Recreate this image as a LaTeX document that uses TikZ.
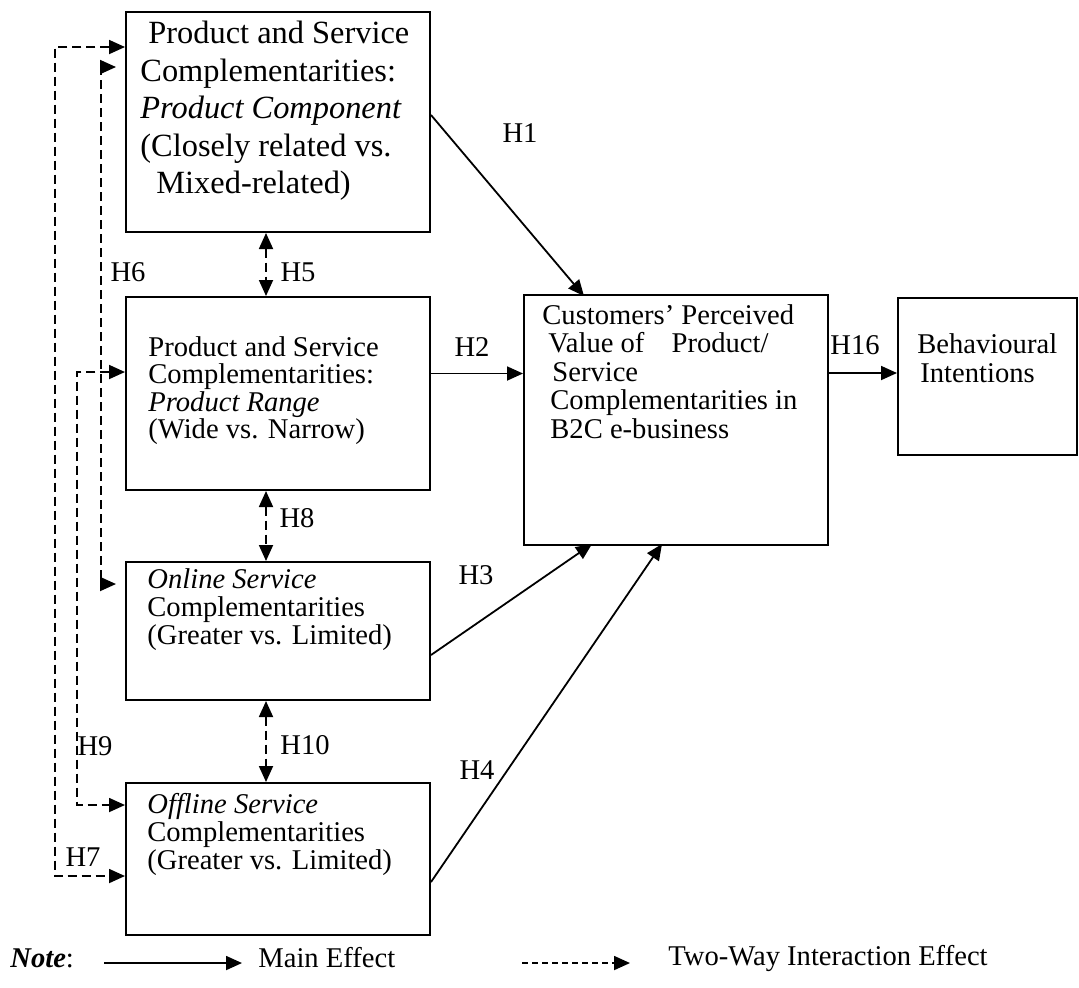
\documentclass[tikz,border=0pt]{standalone}
\usepackage{fontspec}
\setmainfont{Liberation Serif}
\usetikzlibrary{arrows.meta,calc}

\begin{document}
\begin{tikzpicture}[x=0.5pt,y=-0.5pt,
	cbox/.style={draw,line width=1pt,rectangle,inner sep=0pt},
	txt/.style={anchor=north west,inner sep=0pt,align=left},
	hlab/.style={inner sep=0pt,font=\fontsize{14.3}{14}\selectfont},
	main/.style={line width=0.9pt,-{Triangle[length=8pt,width=7pt]}},
	inter/.style={line width=0.9pt,dash pattern=on 4.5pt off 2.5pt,{Triangle[length=8pt,width=7pt]}-{Triangle[length=8pt,width=7pt]}}]
		\useasboundingbox (0,0) rectangle (1079,987);
		% boxes
		\node[cbox,minimum width=152pt,minimum height=110pt] (pc) at (278,122) {};
		\node[cbox,minimum width=152pt,minimum height=96.5pt] (pr) at (278,393.5) {};
		\node[cbox,minimum width=152pt,minimum height=69pt] (ons) at (278,631) {};
		\node[cbox,minimum width=152pt,minimum height=76pt] (ofs) at (278,859) {};
		\node[cbox,minimum width=152pt,minimum height=125pt] (cpv) at (676,420) {};
		\node[cbox,minimum width=89.5pt,minimum height=78.5pt] (bi) at (987.5,376.5) {};
		% box texts
		\node[txt,font=\fontsize{16.2}{18.75}\selectfont] (pctext) at (140,21)
			{\hspace*{4pt}Product and Service\\ Complementarities:\\ \textit{Product Component}\\ (Closely related vs.\\ \hspace*{8pt}Mixed-related)};
		\node[txt,font=\fontsize{14.3}{13.7}\selectfont] (prtext) at (148,336)
			{Product and Service\\ Complementarities:\\ \textit{Product Range}\\ (Wide vs. Narrow)};
		\node[txt,font=\fontsize{14.3}{14}\selectfont] (onstext) at (147,568)
			{\textit{Online Service}\\ Complementarities\\ (Greater vs. Limited)};
		\node[txt,font=\fontsize{14.3}{14}\selectfont] (ofstext) at (147,793)
			{\textit{Offline Service}\\ Complementarities\\ (Greater vs. Limited)};
		\node[txt,font=\fontsize{14.3}{14.25}\selectfont] (cpvtext) at (542,304)
			{Customers’ Perceived\\ \hspace*{3pt}Value of\hspace{10pt} Product/\\ \hspace*{5pt}Service\\ \hspace*{4pt}Complementarities in\\ \hspace*{4pt}B2C e-business};
		\node[txt,font=\fontsize{14.3}{14.5}\selectfont] (bitext) at (917,333)
			{Behavioural\\ \hspace*{1.5pt}Intentions};
		% main effects
		\draw[main] ($(pc.east)+(0,-7)$) -- ($(cpv.north west)+(61,2)$);
		\draw[main] ($(pr.east)+(0,-20)$) coordinate (h2s) -- (h2s -| cpv.west);
		\draw[main] ($(ons.east)+(0,24)$) -- ($(cpv.south west)+(69,-2)$);
		\draw[main] ($(ofs.east)+(0,23)$) -- ($(cpv.south west)+(139,-2)$);
		\draw[main] ($(cpv.east)+(0,-47)$) coordinate (h16s) -- (h16s -| bi.west);
		% two-way interactions
		\draw[inter] ($(pc.south)+(-12,0)$) -- ($(pr.north)+(-12,0)$);
		\draw[inter] ($(pr.south)+(-12,0)$) -- ($(ons.north)+(-12,0)$);
		\draw[inter] ($(ons.south)+(-12,0)$) -- ($(ofs.north)+(-12,0)$);
		\draw[inter] ($(pc.north west)+(0,36)$) -- ++(-70,0) |- ($(ofs.north west)+(0,94)$);
		\draw[inter] ($(pc.north west)+(-9,56)$) -- ++(-15,0) |- ($(ons.north west)+(-9,23)$);
		\draw[inter] ($(pr.north west)+(0,76)$) -- ++(-48,0) |- ($(ofs.north west)+(0,23)$);
		% labels
		\node[hlab] (h1) at (520,133) {H1};
		\node[hlab] (h2) at (472,347) {H2};
		\node[hlab] (h3) at (476,575) {H3};
		\node[hlab] (h4) at (477,770) {H4};
		\node[hlab] (h5) at (298,272) {H5};
		\node[hlab] (h6) at (128,272) {H6};
		\node[hlab] (h7) at (83,857) {H7};
		\node[hlab] (h8) at (297,518) {H8};
		\node[hlab] (h9) at (95,746) {H9};
		\node[hlab] (h10) at (305,745) {H10};
		\node[hlab] (h16) at (855,345) {H16};
		% legend
		\node[hlab,anchor=west] (note) at (10,958) {\textbf{\textit{Note}}:};
		\node[hlab,anchor=west] (me) at (258,958) {Main Effect};
		\node[hlab,anchor=west] (ie) at (668,958) {Two-Way Interaction Effect};
		\coordinate (ma) at (104,963);
		\coordinate (mb) at (242,963);
		\coordinate (ia) at (522,963);
		\coordinate (ib) at (630,963);
		\draw[main] (ma) -- (mb);
		\draw[line width=0.9pt,dash pattern=on 3pt off 2pt,-{Triangle[length=8pt,width=7pt]}] (ia) -- (ib);
	\end{tikzpicture}
\end{document}
